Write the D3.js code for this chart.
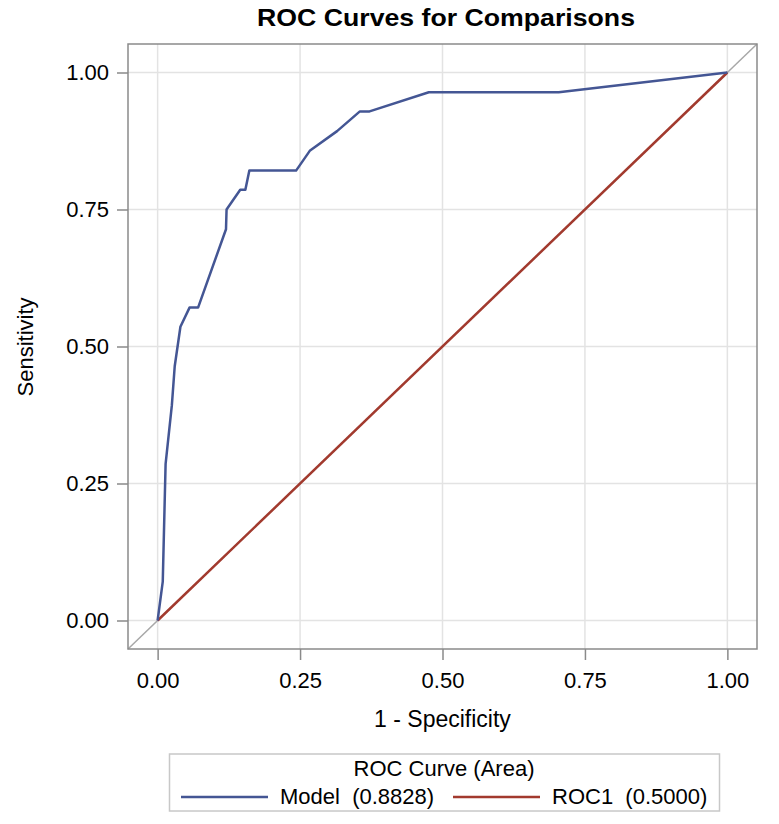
<!DOCTYPE html>
<html lang="en">
<head>
<meta charset="UTF-8" />
<title>ROC Curves for Comparisons</title>
<style>
  body { margin: 0; background: #fff; }
  text { font-family: Arial, "Liberation Sans", sans-serif; fill: #000; }
</style>
</head>
<body>
<svg id="svg" width="779" height="824"></svg>
<script src="https://d3js.org/d3.v7.min.js"></script>
<script>
// data
const modelFpr = [0, 0.009, 0.014, 0.025, 0.030, 0.040, 0.056, 0.071, 0.120, 0.121, 0.145, 0.154, 0.161, 0.243, 0.267, 0.315, 0.355, 0.372, 0.476, 0.704, 1.0];
const modelTpr = [0, 0.071, 0.286, 0.393, 0.464, 0.536, 0.571, 0.571, 0.714, 0.750, 0.786, 0.786, 0.821, 0.821, 0.857, 0.893, 0.929, 0.929, 0.964, 0.964, 1.0];
const refFpr = [0, 1];
const refTpr = [0, 1];
const tickValues = [0, 0.25, 0.5, 0.75, 1];
const legendNames = ["Model  (0.8828)", "ROC1  (0.5000)"];

const svg = d3.select("#svg");
const plotL = 128, plotR = 757, plotT = 44, plotB = 649;
const lo = -0.052, hi = 1.052;

const x = d3.scaleLinear().domain([lo, hi]).range([plotL, plotR]);
const y = d3.scaleLinear().domain([lo, hi]).range([plotB, plotT]);

// grid
const grid = svg.append("g");
grid.selectAll(".gx").data(tickValues).enter().append("line")
  .attr("x1", d => x(d)).attr("x2", d => x(d))
  .attr("y1", plotT).attr("y2", plotB)
  .attr("stroke", "#e3e3e3").attr("stroke-width", 1.5);
grid.selectAll(".gy").data(tickValues).enter().append("line")
  .attr("y1", d => y(d)).attr("y2", d => y(d))
  .attr("x1", plotL).attr("x2", plotR)
  .attr("stroke", "#e3e3e3").attr("stroke-width", 1.5);

// chance diagonal across the whole frame
svg.append("line")
  .attr("x1", x(lo)).attr("y1", y(lo))
  .attr("x2", x(hi)).attr("y2", y(hi))
  .attr("stroke", "#a8a8a8").attr("stroke-width", 1.5);

const line = d3.line().x(d => x(d[0])).y(d => y(d[1]));

svg.append("path")
  .attr("d", line(d3.zip(refFpr, refTpr)))
  .attr("fill", "none").attr("stroke", "#a23a2e").attr("stroke-width", 2.5);

svg.append("path")
  .attr("d", line(d3.zip(modelFpr, modelTpr)))
  .attr("fill", "none").attr("stroke", "#445694").attr("stroke-width", 2.5)
  .attr("stroke-linejoin", "round");

// axes
const fmt = d3.format(".2f");
const bottomAxis = d3.axisBottom(x).tickValues(tickValues).tickFormat(fmt).tickSize(11).tickPadding(12);
const leftAxis = d3.axisLeft(y).tickValues(tickValues).tickFormat(fmt).tickSize(11).tickPadding(8);

const gx = svg.append("g").attr("transform", `translate(0,${plotB})`).call(bottomAxis);
const gy = svg.append("g").attr("transform", `translate(${plotL},0)`).call(leftAxis);
[gx, gy].forEach(g => {
  g.select(".domain").remove();
  g.selectAll(".tick line").attr("stroke", "#8a8a8a").attr("stroke-width", 1.5);
  g.selectAll(".tick text").attr("font-size", 22).attr("font-family", "Arial, 'Liberation Sans', sans-serif").attr("fill", "#222");
});

// frame
svg.append("rect")
  .attr("x", plotL).attr("y", plotT)
  .attr("width", plotR - plotL).attr("height", plotB - plotT)
  .attr("fill", "none").attr("stroke", "#8a8a8a").attr("stroke-width", 1.5);

// titles
svg.append("text").attr("x", 446).attr("y", 26)
  .attr("text-anchor", "middle").attr("font-size", 24).attr("font-weight", "bold")
  .attr("textLength", 378).attr("lengthAdjust", "spacingAndGlyphs")
  .text("ROC Curves for Comparisons");
svg.append("text").attr("x", 442.5).attr("y", 727)
  .attr("text-anchor", "middle").attr("font-size", 23).attr("fill", "#222")
  .text("1 - Specificity");
svg.append("text").attr("transform", "translate(33,347) rotate(-90)")
  .attr("text-anchor", "middle").attr("font-size", 22).attr("fill", "#222")
  .text("Sensitivity");

// legend
const lg = svg.append("g");
lg.append("rect").attr("x", 169.5).attr("y", 754).attr("width", 550).attr("height", 57)
  .attr("fill", "#fff").attr("stroke", "#c8c8c8").attr("stroke-width", 1.5);
lg.append("text").attr("x", 444).attr("y", 776).attr("text-anchor", "middle")
  .attr("font-size", 22).attr("fill", "#222").text("ROC Curve (Area)");
const legendColors = ["#445694", "#a23a2e"];
const legendX = [181, 453];
legendNames.forEach((name, i) => {
  lg.append("line").attr("x1", legendX[i]).attr("x2", legendX[i] + 87)
    .attr("y1", 797).attr("y2", 797)
    .attr("stroke", legendColors[i]).attr("stroke-width", 2.5);
  lg.append("text").attr("x", legendX[i] + 99).attr("y", 804)
    .attr("font-size", 22).attr("fill", "#222")
    .style("white-space", "pre").attr("xml:space", "preserve")
    .text(name);
});
</script>
</body>
</html>
